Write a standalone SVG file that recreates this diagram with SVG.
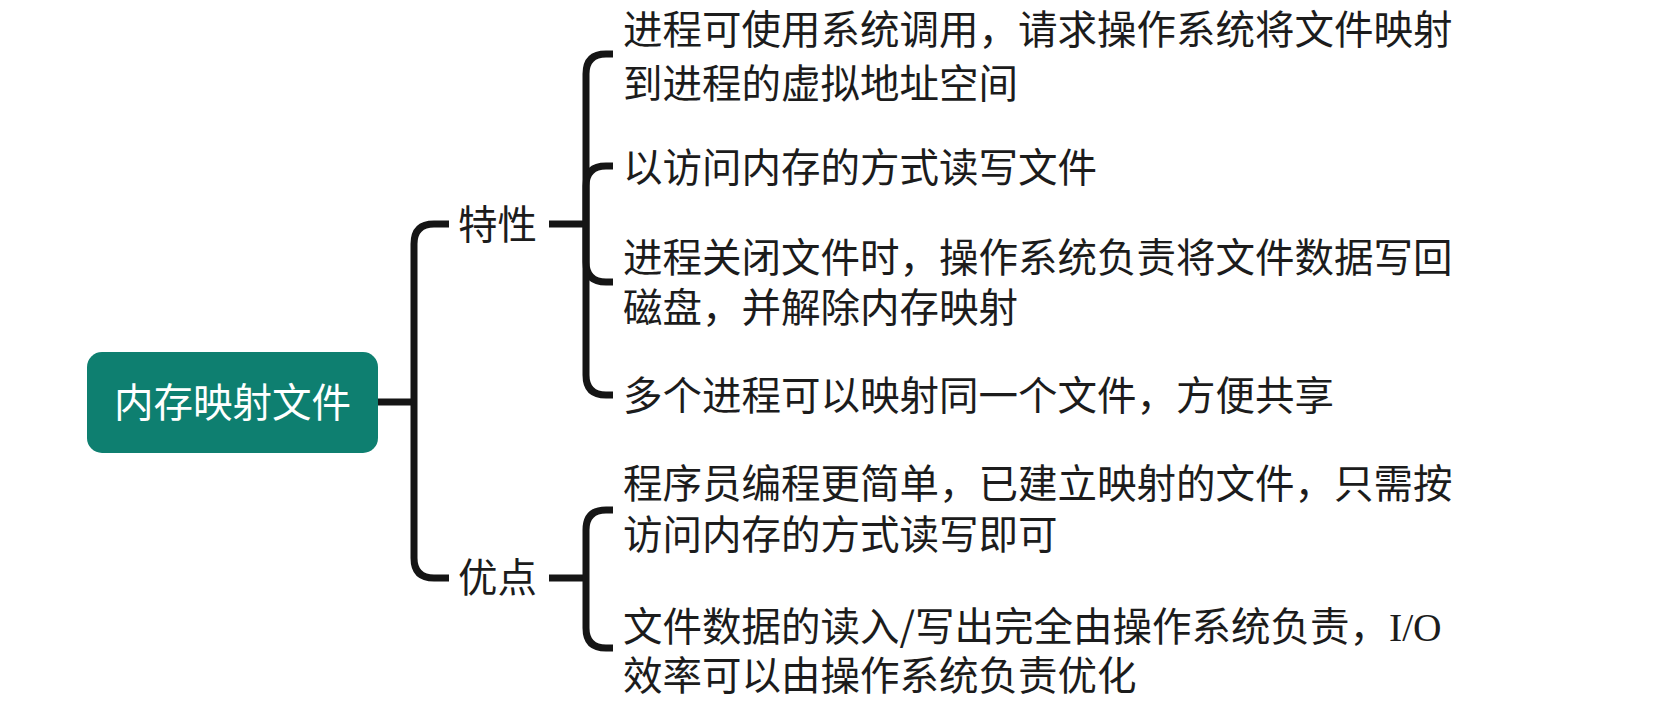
<svg xmlns="http://www.w3.org/2000/svg" width="1663" height="707" viewBox="0 0 1663 707">
<style>
.t{font-family:"Noto Sans CJK SC","Noto Sans",sans-serif;font-size:39.5px;fill:#1c1c1c}
.r{font-family:"Noto Sans CJK SC","Noto Sans",sans-serif;font-size:39.5px;fill:#ffffff}
.ser{font-family:"Liberation Serif",serif}
.c{fill:none;stroke:#151515;stroke-width:7;stroke-linecap:butt;stroke-linejoin:round}
</style>
<rect width="1663" height="707" fill="#ffffff"/>
<g id="connectors">
<path class="c" d="M378,402 H414"/>
<path class="c" d="M414,402 V244 Q414,224 434,224 H449"/>
<path class="c" d="M414,402 V558 Q414,578 434,578 H449"/>
<path class="c" d="M549,224 H586"/>
<path class="c" d="M586,224 V74 Q586,54 606,54 H613"/>
<path class="c" d="M586,224 V186 Q586,166 606,166 H613"/>
<path class="c" d="M586,224 V262 Q586,282 606,282 H613"/>
<path class="c" d="M586,224 V375 Q586,395 606,395 H613"/>
<path class="c" d="M549,578 H586"/>
<path class="c" d="M586,578 V530 Q586,510 606,510 H613"/>
<path class="c" d="M586,578 V628 Q586,648 606,648 H613"/>
</g>
<g id="root">
<rect x="87" y="352" width="291" height="101" rx="15" fill="#0e7f70"/>
<text class="r" x="232.5" y="417" text-anchor="middle">内存映射文件</text>
</g>
<g id="n-texing"><text class="t" x="458" y="239">特性</text></g>
<g id="n-youdian"><text class="t" x="458" y="592">优点</text></g>
<g id="n-t1">
<text class="t" x="623" y="44">进程可使用系统调用，请求操作系统将文件映射<tspan x="623" y="98">到进程的虚拟地址空间</tspan></text>
</g>
<g id="n-t2"><text class="t" x="623" y="182">以访问内存的方式读写文件</text></g>
<g id="n-t3">
<text class="t" x="623" y="272">进程关闭文件时，操作系统负责将文件数据写回<tspan x="623" y="322">磁盘，并解除内存映射</tspan></text>
</g>
<g id="n-t4"><text class="t" x="623" y="410">多个进程可以映射同一个文件，方便共享</text></g>
<g id="n-y1">
<text class="t" x="623" y="498">程序员编程更简单，已建立映射的文件，只需按<tspan x="623" y="549">访问内存的方式读写即可</tspan></text>
</g>
<g id="n-y2">
<text class="t" x="623" y="641">文件数据的读入/写出完全由操作系统负责，<tspan class="ser">I/O</tspan><tspan x="623" y="690">效率可以由操作系统负责优化</tspan></text>
</g>
</svg>
